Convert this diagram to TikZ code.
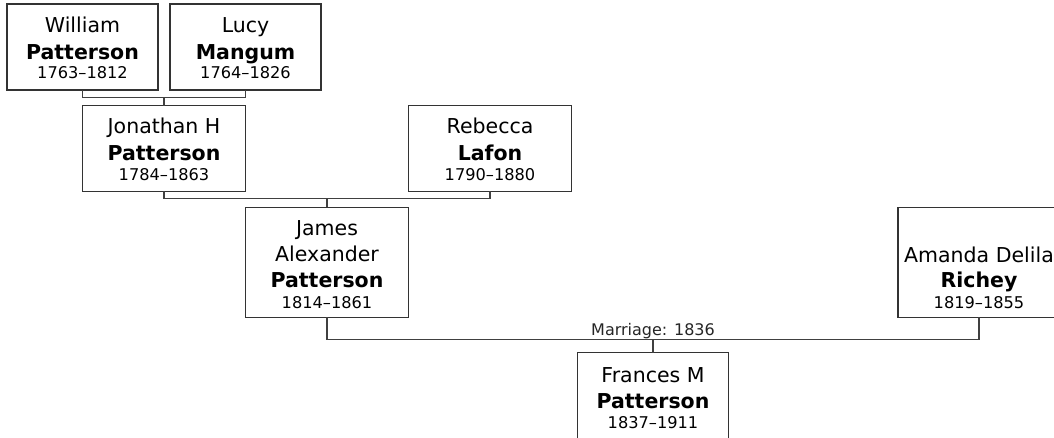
\documentclass[tikz,border=0pt]{standalone}
\usepackage{fontspec}
\setmainfont{DejaVu Sans}
\usetikzlibrary{calc}
\definecolor{boxline}{HTML}{333333}
\definecolor{connline}{HTML}{404040}
\tikzset{
  pbox/.style={draw=boxline, line width=1.3pt, fill=white, rectangle, inner sep=0pt, outer sep=0pt},
  nm/.style={anchor=base, inner sep=0pt, font=\fontsize{20.5}{24}\selectfont, text=black},
  sur/.style={anchor=base, inner sep=0pt, font=\fontsize{20.5}{24}\selectfont\bfseries, text=black},
  yrs/.style={anchor=base, inner sep=0pt, font=\fontsize{16.2}{19}\selectfont, text=black},
  lbl/.style={anchor=base, inner sep=0pt, font=\fontsize{16}{19}\selectfont, text=black!85},
  conn/.style={draw=connline, line width=1.2pt}
}
\begin{document}
\begin{tikzpicture}[x=1pt,y=-1pt]
\useasboundingbox (0,0) rectangle (1054,438);
\fill[white] (0,0) rectangle (1054,438);
\clip (0,0) rectangle (1054,438);

% boxes
\node[pbox, minimum width=151, minimum height=86] (william) at (82.5,47) {};
\node[pbox, minimum width=151, minimum height=86] (lucy) at (245.5,47) {};
\node[pbox, minimum width=163.5, minimum height=85.5] (jonathan) at (164,148.5) {};
\node[pbox, minimum width=163.5, minimum height=85.5] (rebecca) at (490,148.5) {};
\node[pbox, minimum width=162.5, minimum height=110] (james) at (327,262.3) {};
\node[pbox, minimum width=162, minimum height=110] (amanda) at (979,262.3) {};
\node[pbox, minimum width=151, minimum height=86] (frances) at (653,395.7) {};

% connectors
\coordinate (m1) at (164,97.5);
\coordinate (m2) at (327,198.5);
\coordinate (m3) at (653,339.5);
\draw[conn] (william.south) |- (m1) -| (lucy.south);
\draw[conn] (m1) -- (jonathan.north);
\draw[conn] (jonathan.south) |- (m2) -| (rebecca.south);
\draw[conn] (m2) -- (james.north);
\draw[conn] (james.south) |- (m3) -| (amanda.south);
\draw[conn] (m3) -- (frances.north);
\node[lbl] (marriage) at ($(m3)+(0,-4.5)$) {Marriage: 1836};

% texts
\node[nm]  (william-a) at ($(william.north)+(0,28.5)$) {William};
\node[sur] (william-b) at ($(william.north)+(0,55.5)$) {Patterson};
\node[yrs] (william-c) at ($(william.north)+(0,74.8)$) {1763–1812};

\node[nm]  (lucy-a) at ($(lucy.north)+(0,28.5)$) {Lucy};
\node[sur] (lucy-b) at ($(lucy.north)+(0,55.5)$) {Mangum};
\node[yrs] (lucy-c) at ($(lucy.north)+(0,74.8)$) {1764–1826};

\node[nm]  (jonathan-a) at ($(jonathan.north)+(0,27.8)$) {Jonathan H};
\node[sur] (jonathan-b) at ($(jonathan.north)+(0,54.5)$) {Patterson};
\node[yrs] (jonathan-c) at ($(jonathan.north)+(0,74.3)$) {1784–1863};

\node[nm]  (rebecca-a) at ($(rebecca.north)+(0,27.8)$) {Rebecca};
\node[sur] (rebecca-b) at ($(rebecca.north)+(0,54.5)$) {Lafon};
\node[yrs] (rebecca-c) at ($(rebecca.north)+(0,74.3)$) {1790–1880};

\node[nm]  (james-a) at ($(james.north)+(0,28)$) {James};
\node[nm]  (james-b) at ($(james.north)+(0,54.5)$) {Alexander};
\node[sur] (james-c) at ($(james.north)+(0,80)$) {Patterson};
\node[yrs] (james-d) at ($(james.north)+(0,101)$) {1814–1861};

\node[nm]  (amanda-a) at ($(amanda.north)+(0,55.5)$) {Amanda Delila};
\node[sur] (amanda-b) at ($(amanda.north)+(0,80)$) {Richey};
\node[yrs] (amanda-c) at ($(amanda.north)+(0,101)$) {1819–1855};

\node[nm]  (frances-a) at ($(frances.north)+(0,29.5)$) {Frances M};
\node[sur] (frances-b) at ($(frances.north)+(0,55.5)$) {Patterson};
\node[yrs] (frances-c) at ($(frances.north)+(0,75.3)$) {1837–1911};
\end{tikzpicture}
\end{document}
